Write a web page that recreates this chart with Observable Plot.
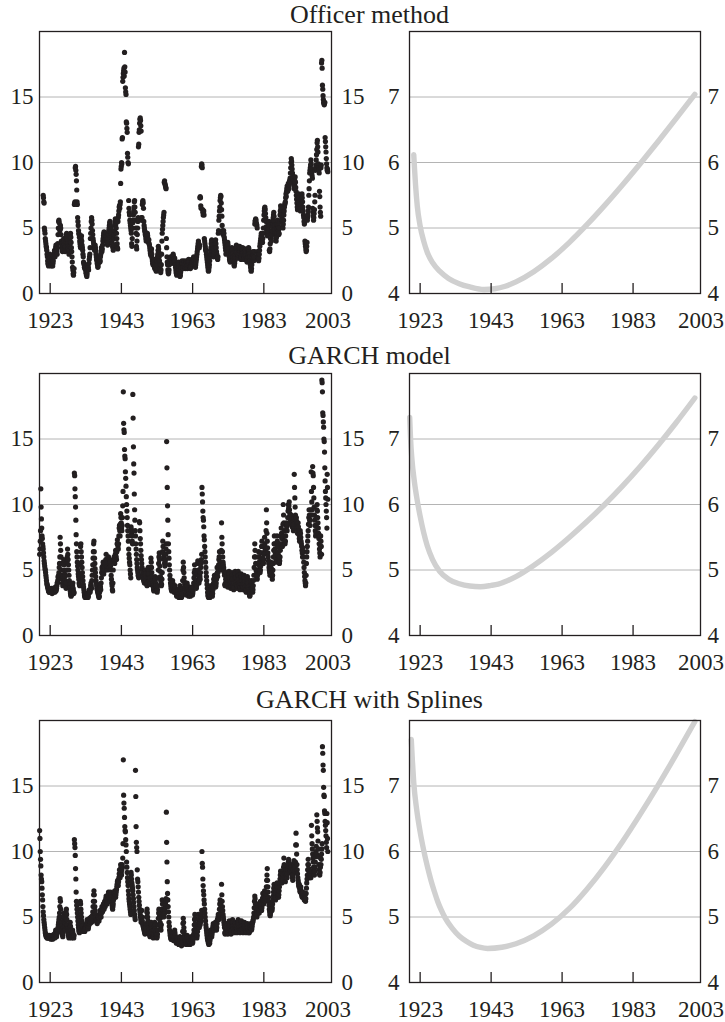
<!DOCTYPE html>
<html><head><meta charset="utf-8">
<script src="https://cdn.jsdelivr.net/npm/d3@7"></script>
<script src="https://cdn.jsdelivr.net/npm/@observablehq/plot@0.6"></script>
<style>
body{margin:0;background:#fff;}
#page{position:relative;width:725px;height:1022px;font-family:"Liberation Serif","Times New Roman",serif;color:#231f20;overflow:hidden;}
.title{position:absolute;left:39px;width:661px;text-align:center;font-size:26px;line-height:1;white-space:nowrap;}
.panel{position:absolute;}
</style></head><body><div id="page"></div>
<script>
// ---- Data ----
const titles = ["Officer method", "GARCH model", "GARCH with Splines"];
const xTicks = [1923, 1943, 1963, 1983];
const xEndTick = [2003];
const leftYTicks = [0, 5, 10, 15];
const leftGrid = [5, 10, 15];
const rightYTicks = [4, 5, 6, 7];
const rightGrid = [5, 6, 7];

// monthly volatility, Officer method, from Jan 1921
const officerStart = 1921;
const officer = [
7.5,7.3,7.0,6.9,5.0,4.8,4.6,4.2,4.0,3.8,3.6,3.5,
3.3,3.0,2.8,2.5,2.3,2.2,2.1,2.3,2.6,2.9,3.0,2.7,
2.5,2.3,2.2,2.1,2.3,2.6,2.4,2.2,2.1,2.3,2.5,2.8,
2.9,3.1,3.3,3.0,2.8,3.2,3.5,3.7,3.6,3.4,3.2,3.0,
3.5,3.8,4.5,5.0,5.5,5.6,5.4,5.0,4.8,4.9,5.2,5.0,
4.5,4.0,3.8,3.5,3.3,3.2,3.4,3.6,3.9,4.2,4.0,3.7,
3.5,3.3,3.2,3.6,4.0,4.3,4.5,4.6,4.4,4.2,4.0,3.8,
3.6,3.4,3.2,3.0,3.3,3.6,4.0,4.4,4.6,4.3,3.9,3.5,
3.2,2.8,2.4,2.0,1.8,1.5,1.4,1.6,1.9,6.8,6.9,7.0,
9.6,9.7,9.4,9.1,8.6,7.9,7.0,6.8,5.8,5.5,5.2,4.8,
4.6,4.5,4.3,4.0,3.8,3.6,3.5,3.8,4.2,4.4,4.0,3.7,
3.5,3.3,3.0,2.8,2.4,2.3,2.2,2.0,1.9,2.1,2.0,1.8,
1.6,1.5,1.4,1.3,1.5,1.8,2.0,2.2,2.0,1.8,2.3,2.6,
2.8,3.0,3.5,4.2,4.6,5.0,5.5,5.8,5.6,5.3,4.8,4.5,
4.2,4.0,3.8,3.6,3.4,3.3,3.5,3.7,3.5,3.3,3.0,2.8,
2.6,2.5,2.3,2.2,2.0,2.1,2.3,2.5,2.7,2.8,2.6,2.4,
2.5,2.8,3.0,3.2,3.5,3.4,3.2,3.4,3.7,4.0,4.2,4.4,
4.6,4.7,4.5,4.3,4.1,4.0,4.2,4.4,4.6,4.3,4.1,3.9,
3.8,3.7,3.9,4.2,4.5,4.8,5.0,5.2,5.4,5.5,5.3,5.1,
4.9,4.7,4.5,4.3,4.0,3.8,3.6,3.5,3.3,3.7,4.2,4.5,
4.8,5.2,5.5,5.7,5.6,5.3,5.0,4.6,4.2,3.8,3.5,3.4,
5.5,5.8,6.0,6.3,6.6,6.7,6.5,6.8,7.0,8.4,9.5,9.7,
10.0,9.9,11.8,11.9,16.2,16.5,16.8,17.0,17.2,16.6,18.4,17.3,
16.9,15.7,15.4,15.2,13.1,13.0,12.6,12.3,10.7,10.4,10.0,9.9,
7.1,6.5,6.2,6.0,5.6,5.4,5.2,5.0,4.8,4.6,3.8,3.6,
4.2,5.0,5.4,5.6,6.0,6.3,6.6,7.0,7.1,6.6,6.2,5.6,
5.0,4.6,3.6,3.4,4.0,4.5,5.0,5.5,5.8,11.2,11.4,12.3,
12.5,13.0,13.3,13.4,13.2,12.8,12.4,5.8,5.6,5.8,6.8,7.0,
7.1,6.9,6.5,5.5,5.2,5.0,4.8,4.7,4.5,4.4,4.2,4.0,
4.1,4.3,4.5,4.6,4.4,4.2,4.0,3.9,4.1,3.8,3.7,3.5,
3.3,3.1,3.0,2.9,3.2,3.4,3.0,2.7,2.5,2.3,2.2,2.4,
2.6,2.4,2.2,2.0,1.9,2.1,2.3,2.0,1.8,1.7,1.9,2.2,
2.5,2.8,3.0,3.3,3.6,3.4,3.1,2.8,2.5,2.2,1.9,1.7,
1.6,1.8,2.2,3.0,4.0,4.6,4.9,5.2,5.5,5.8,6.0,6.2,
8.5,8.6,8.4,8.3,8.2,8.1,8.0,4.2,3.5,2.8,2.4,2.2,
1.8,1.6,1.5,1.6,1.8,2.2,2.5,2.7,2.6,2.8,2.7,2.6,
2.5,2.4,2.3,2.5,2.7,2.9,3.0,2.8,2.6,2.4,2.6,2.7,
2.5,2.2,2.0,1.8,1.6,1.5,1.4,1.5,1.7,1.9,2.1,2.3,
2.4,2.2,2.0,1.8,1.5,1.3,1.4,1.6,1.8,2.0,2.2,2.4,
2.5,2.3,2.1,2.0,1.9,2.1,2.3,2.5,2.4,2.2,2.0,1.9,
2.0,2.2,2.4,2.5,2.3,2.1,1.9,2.0,2.2,2.4,2.6,2.5,
2.4,2.2,2.1,2.0,1.9,2.0,2.1,2.3,2.5,2.6,2.4,2.3,
2.2,2.4,2.6,2.8,2.7,2.5,2.3,2.2,2.1,2.0,2.2,2.4,
2.6,2.8,3.0,3.2,3.4,3.6,3.8,4.0,3.8,3.6,3.5,3.7,
7.3,7.4,7.3,6.7,6.5,9.7,9.9,9.8,9.6,6.4,6.2,6.0,
6.2,6.3,6.0,4.2,4.0,3.8,3.6,3.4,3.3,3.2,3.0,2.8,
2.6,2.4,2.2,2.0,1.8,1.7,1.8,2.0,2.2,2.5,2.8,3.0,
3.3,3.5,3.8,4.0,4.1,3.9,3.7,3.4,3.2,3.0,2.8,3.0,
3.2,3.4,3.6,3.8,4.0,4.1,3.8,3.5,3.2,3.0,2.8,2.7,
2.6,2.8,4.6,4.8,5.6,5.9,6.3,6.6,7.1,7.3,7.5,7.4,
6.9,6.4,5.9,5.2,4.8,4.6,4.5,4.7,4.8,4.6,4.3,4.1,
3.9,3.7,3.5,3.3,3.0,3.1,3.3,3.5,3.6,3.8,3.9,3.7,
3.4,3.2,3.0,2.8,2.6,2.5,2.4,2.6,2.8,3.0,3.2,3.4,
3.5,3.3,3.1,3.0,2.8,2.6,2.4,2.2,2.1,2.3,2.5,2.8,
3.0,3.2,3.5,3.7,3.6,3.4,3.2,3.0,2.8,2.7,2.9,3.1,
3.3,3.5,3.6,3.4,3.2,3.0,2.8,2.6,2.8,3.0,3.2,3.4,
3.5,3.3,3.1,2.9,2.7,2.6,2.8,3.0,3.2,3.4,3.3,3.1,
2.9,2.7,2.5,2.4,2.6,2.8,3.0,3.3,3.5,3.4,3.2,3.0,
2.8,2.5,2.2,2.0,1.8,1.7,1.9,2.2,2.5,2.8,3.0,3.2,
2.9,2.7,2.5,2.8,3.2,5.3,5.5,5.6,5.7,5.6,5.4,5.3,
5.2,5.0,3.2,3.0,2.8,2.6,2.5,2.7,3.0,3.3,3.6,3.8,
4.0,4.2,4.4,4.6,4.5,4.3,4.1,3.9,4.2,4.6,5.0,5.6,
6.0,6.3,6.5,6.6,6.4,6.1,5.8,5.5,5.1,4.8,4.6,4.4,
4.5,4.8,5.0,5.3,5.5,5.2,3.3,3.2,3.4,3.8,4.2,4.6,
4.2,4.0,4.5,4.8,5.1,5.4,5.6,5.8,6.0,6.2,5.9,5.5,
5.2,4.9,4.6,4.4,4.2,4.0,4.3,4.6,5.0,5.3,5.6,5.2,
5.0,4.8,4.5,4.6,5.0,5.5,6.0,6.3,6.7,6.5,6.2,6.0,
5.8,5.6,5.4,5.2,5.0,5.3,5.6,6.0,6.3,6.6,6.8,6.9,
7.0,7.3,7.6,7.4,7.8,8.0,8.2,8.0,7.8,8.1,8.4,8.2,
8.0,8.3,8.6,8.5,8.8,9.2,9.6,10.0,10.3,10.1,9.8,9.5,
9.2,9.0,8.8,8.6,8.4,8.2,8.0,8.3,8.6,8.9,8.5,8.1,
7.8,7.5,7.2,6.9,6.6,6.4,6.6,7.0,7.4,7.6,7.3,7.0,
6.8,6.6,6.4,6.3,6.5,6.8,7.2,7.5,7.6,7.3,7.0,6.6,
6.3,6.0,5.8,5.5,5.3,5.4,4.0,3.8,3.6,3.4,3.2,3.3,
3.6,3.9,5.6,5.8,6.0,6.3,6.6,7.5,8.0,8.6,9.2,9.4,
9.6,9.8,10.2,9.9,9.5,9.2,9.0,8.8,6.5,6.2,5.9,5.6,
5.8,6.1,6.4,7.0,7.5,9.4,9.6,9.8,10.2,10.6,11.0,11.5,
11.7,11.2,10.8,9.9,9.6,9.4,9.2,7.8,7.4,6.6,6.2,5.9,
9.6,9.8,17.6,17.8,17.2,15.9,15.6,15.1,14.8,14.6,14.5,14.4,
14.5,14.6,11.9,11.6,11.2,10.8,10.3,9.9,9.6,9.4,9.5,9.3
];

// monthly volatility, GARCH model, from Jan 1920
const garchStart = 1920;
const garch = [
6.2,6.6,7.2,8.0,11.2,9.8,8.9,8.2,7.6,7.4,7.0,6.8,
6.6,6.3,6.0,5.7,5.5,5.3,5.1,5.0,4.8,4.6,4.4,4.2,
4.0,3.9,3.8,3.7,3.6,3.5,3.4,3.4,3.3,3.3,3.4,3.5,
3.4,3.3,3.5,3.6,3.4,3.3,3.2,3.4,3.6,3.5,3.3,3.4,
3.5,3.6,3.4,3.3,3.5,3.7,3.6,3.4,3.5,3.6,3.8,4.0,
4.0,4.2,4.5,4.4,4.6,4.8,5.2,5.5,6.0,7.5,7.0,6.5,
6.0,5.5,5.0,4.6,4.3,4.0,3.8,4.5,5.5,5.8,5.4,5.0,
4.7,4.5,4.2,4.0,3.8,3.6,4.0,5.0,5.6,6.0,6.6,6.2,
5.8,5.4,5.0,4.6,4.2,3.9,3.6,3.4,3.2,3.1,3.0,3.1,
3.2,3.3,3.5,3.8,4.0,3.6,3.4,3.2,3.3,12.4,12.2,11.2,
10.6,9.8,8.8,7.7,7.0,6.4,6.0,5.6,5.3,5.0,4.7,4.5,
4.3,4.0,3.9,3.8,4.5,5.5,6.8,7.0,6.4,6.0,5.6,5.2,
4.8,4.5,4.2,3.9,3.7,3.5,3.3,3.1,3.0,2.9,3.0,3.2,
3.1,3.0,2.9,3.0,3.2,3.1,3.0,2.9,3.0,3.2,3.4,3.3,
3.5,3.4,3.3,3.5,3.8,4.0,3.8,3.6,4.2,4.6,5.0,5.4,
5.9,6.4,7.0,7.2,6.4,5.9,5.5,5.1,4.8,4.5,4.2,4.0,
3.8,3.6,3.5,3.4,3.3,3.2,3.1,3.0,2.9,3.0,3.3,3.6,
3.9,3.7,3.5,4.0,4.4,4.8,5.2,5.0,4.7,5.3,5.6,5.4,
4.7,5.0,5.3,5.5,5.2,5.0,5.4,5.8,6.2,5.8,5.5,5.2,
5.0,5.3,5.6,5.9,6.0,5.7,5.4,5.2,5.5,5.8,5.6,5.3,
5.0,4.6,4.3,4.0,3.8,3.5,3.4,4.0,5.0,5.6,5.8,6.0,
5.7,5.5,5.8,6.2,6.5,6.3,6.0,5.8,6.4,7.0,7.3,7.0,
6.8,6.6,7.0,7.6,8.2,8.4,8.0,7.6,8.5,9.3,9.0,8.6,
8.2,8.0,8.4,9.0,9.9,11.0,18.6,16.2,15.7,15.5,14.2,13.7,
13.5,12.5,12.0,11.4,10.6,10.0,9.5,9.0,8.4,8.0,7.6,7.2,
6.6,6.2,5.9,5.6,5.4,5.0,4.7,4.4,8.3,8.1,7.8,7.6,
7.2,7.0,18.4,16.6,14.4,13.1,12.4,10.8,9.6,8.8,8.0,7.6,
7.0,6.6,6.2,5.8,5.5,5.2,5.0,4.8,4.6,4.5,4.4,4.6,
8.7,8.6,8.0,7.4,7.0,6.5,6.1,5.8,5.5,5.2,5.0,4.8,
4.6,4.5,4.3,4.2,4.1,4.0,4.4,4.8,5.0,4.7,4.4,4.2,
4.0,3.9,3.8,4.0,4.4,4.8,5.2,5.0,4.7,4.4,4.2,4.0,
3.9,4.4,5.2,5.9,5.6,5.2,4.8,4.5,4.2,4.0,3.8,3.7,
3.5,3.4,3.6,3.9,4.2,4.5,4.3,4.0,3.8,3.6,3.5,3.4,
3.3,3.5,3.8,4.4,5.0,5.5,6.0,6.3,5.8,5.3,4.9,4.5,
4.2,4.0,3.8,3.9,4.3,4.8,6.4,7.2,6.8,6.3,6.0,5.9,
5.8,5.5,5.3,5.6,5.8,6.2,6.6,7.0,14.8,12.8,11.3,9.9,
8.8,7.7,7.0,6.4,5.9,5.4,5.0,4.6,4.3,4.0,3.8,3.6,
3.5,3.4,3.6,3.9,4.2,4.0,3.8,3.6,3.4,3.3,3.4,3.6,
3.8,3.6,3.4,3.3,3.2,3.1,3.0,3.1,3.3,3.5,3.4,3.2,
3.0,2.9,3.0,3.2,3.5,3.8,3.6,3.4,3.2,3.0,2.9,3.0,
3.2,3.6,4.2,5.0,5.6,5.2,4.8,4.4,4.1,3.9,3.7,3.5,
3.3,3.2,3.1,3.3,3.6,4.0,3.8,3.5,3.3,3.1,3.0,3.2,
3.4,3.3,3.2,3.1,3.0,3.2,3.5,3.7,3.6,3.4,3.2,3.1,
3.2,3.4,3.7,4.0,4.4,4.8,5.4,5.0,4.6,4.2,3.9,3.7,
3.6,3.8,4.2,4.7,5.5,5.7,5.0,4.6,4.3,4.0,4.2,4.6,
4.5,4.3,4.8,5.2,5.5,5.8,6.2,11.3,10.8,10.2,9.5,9.0,
8.8,8.3,7.6,7.3,6.8,6.4,6.0,5.6,5.2,4.8,4.5,4.2,
3.9,3.6,3.3,3.1,3.0,2.9,3.0,3.1,3.2,3.0,2.9,3.1,
3.3,3.5,3.8,3.6,3.4,3.2,3.0,3.2,3.5,3.7,4.0,4.3,
4.3,4.6,4.4,4.1,3.9,3.7,3.8,4.0,4.3,4.7,5.2,4.8,
4.5,4.8,5.0,5.4,5.8,6.0,6.4,6.0,5.6,5.4,5.2,5.0,
6.5,8.6,7.5,7.0,6.4,6.0,5.6,5.4,5.2,5.0,4.8,4.6,
3.9,3.8,4.0,4.3,4.6,4.8,4.5,4.2,4.0,3.8,3.7,3.9,
4.2,4.5,4.9,4.7,4.4,4.1,3.9,3.7,3.6,3.8,4.1,4.4,
4.8,4.6,4.3,4.0,3.8,3.6,3.5,3.7,4.0,4.3,4.6,4.9,
4.7,4.4,4.1,3.9,3.7,3.6,3.8,4.2,4.6,4.9,4.6,4.3,
4.0,3.8,3.6,3.5,3.7,4.0,4.4,4.7,4.5,4.2,3.9,3.7,
3.6,3.5,3.7,4.0,4.3,4.6,4.4,4.1,3.9,3.7,3.5,3.4,
3.3,3.5,3.8,4.1,4.5,4.3,4.0,3.7,3.5,3.3,3.2,3.1,
3.0,3.1,3.3,3.5,3.8,4.2,4.0,3.8,3.6,3.4,3.3,3.5,
3.8,4.2,4.6,5.2,6.0,7.0,6.5,6.0,5.5,5.0,4.7,4.5,
4.4,4.3,4.6,5.0,5.5,6.0,6.4,6.0,5.6,5.3,5.0,4.8,
5.0,5.3,5.8,6.3,6.8,7.2,6.8,6.3,5.9,5.6,5.5,5.8,
6.2,6.8,7.5,7.0,6.6,6.3,6.6,8.0,9.6,8.6,7.8,7.2,
6.7,6.3,6.0,5.7,5.5,5.2,5.0,4.8,4.6,4.9,5.3,5.6,
5.4,5.1,4.8,4.5,4.3,4.6,5.0,5.5,6.0,6.5,7.0,7.6,
7.0,6.6,6.3,6.0,5.8,5.6,6.2,7.0,7.6,7.2,6.8,6.4,
6.2,6.0,5.8,5.6,5.5,5.7,6.0,6.5,7.0,7.6,8.2,7.8,
7.4,7.0,6.8,7.5,8.5,10.0,9.2,8.6,8.0,7.6,7.2,7.0,
7.2,7.6,8.0,8.4,8.6,8.3,8.0,8.5,9.0,9.5,10.0,9.7,
9.9,10.2,9.6,9.3,9.0,8.7,8.5,8.8,9.2,8.9,8.6,8.3,
8.6,8.4,8.2,8.0,8.5,9.0,12.3,11.3,10.5,9.8,9.2,8.9,
8.8,9.0,8.7,8.4,8.1,7.8,8.2,8.6,8.3,8.0,7.7,7.4,
7.2,7.6,8.0,7.8,7.5,7.2,7.0,6.8,6.5,6.3,6.0,6.7,
6.4,6.0,5.6,5.2,4.8,4.5,4.2,4.0,3.8,4.0,4.6,5.5,
6.0,6.4,6.8,7.2,7.6,8.0,8.5,9.0,9.6,9.2,8.8,8.4,
8.8,9.2,9.6,12.5,11.0,10.2,9.6,9.2,12.9,12.4,12.2,11.3,
10.5,9.8,9.2,8.8,8.4,8.0,7.6,7.8,8.4,9.0,9.6,10.0,
9.5,9.0,8.6,8.2,7.8,7.4,7.0,6.6,6.3,6.0,6.8,7.6,
7.2,6.8,6.2,19.5,19.3,18.6,17.0,16.8,16.3,15.9,15.0,14.8,
14.0,12.8,11.8,11.0,10.5,10.0,9.5,9.0,8.2,12.3,11.3,10.4
];

// monthly volatility, GARCH with splines, from Jan 1920
const splinesStart = 1920;
const splines = [
11.6,11.0,10.0,9.4,8.9,8.2,7.9,7.7,7.2,6.7,6.3,5.8,
5.4,5.1,4.8,4.6,4.4,4.2,4.0,3.8,3.7,3.6,3.5,3.5,
3.5,3.4,3.4,3.5,3.6,3.5,3.4,3.4,3.5,3.6,3.5,3.4,
3.5,3.4,3.3,3.4,3.5,3.6,3.5,3.4,3.3,3.4,3.5,3.6,
3.6,3.7,3.5,3.4,3.6,3.8,4.0,3.8,3.6,3.5,3.7,3.9,
3.8,4.0,4.2,4.4,4.6,4.8,5.0,5.3,5.8,6.4,6.2,5.6,
5.0,4.6,4.3,4.0,3.8,3.6,3.5,3.8,4.2,4.8,5.3,5.0,
4.6,4.3,4.0,4.5,5.0,5.4,5.6,5.2,4.8,4.4,4.1,3.9,
3.7,3.6,3.5,3.4,3.6,3.8,4.2,4.6,4.3,4.0,3.7,3.5,
3.4,3.6,3.8,4.0,3.8,3.6,3.5,3.4,3.6,10.9,10.6,10.3,
9.7,8.7,7.9,6.9,6.2,5.9,5.6,5.3,5.0,4.7,4.4,4.2,
4.0,3.9,3.8,4.2,5.0,6.2,6.0,5.6,5.3,5.0,4.7,4.5,
4.3,4.1,4.0,3.9,3.9,4.0,4.1,4.0,3.9,4.0,4.2,4.4,
4.1,4.2,4.4,4.6,4.8,4.6,4.4,4.2,4.1,4.3,4.5,4.7,
4.9,4.7,4.5,4.6,4.8,5.0,4.8,4.6,4.7,4.9,5.1,5.4,
5.8,6.2,6.7,7.0,6.7,6.2,5.8,5.5,5.2,5.0,4.8,4.7,
4.7,4.6,4.5,4.7,4.9,5.1,5.0,4.8,4.7,4.9,5.1,5.3,
5.5,5.4,5.2,5.0,5.3,5.6,5.8,5.6,5.4,5.6,5.8,6.0,
5.8,5.6,5.9,6.2,6.0,5.8,6.1,6.4,6.6,6.4,6.2,6.0,
6.1,6.3,6.5,6.7,6.9,6.8,6.6,6.4,6.2,6.5,6.8,6.9,
6.7,6.5,6.3,6.1,5.9,5.7,5.6,5.8,6.0,6.3,6.6,6.8,
6.9,7.0,6.8,6.6,6.5,6.7,6.9,7.1,7.3,7.5,7.7,7.8,
7.6,7.4,7.7,8.0,8.3,8.6,8.2,8.0,8.4,9.0,8.8,8.4,
8.2,8.6,9.0,8.8,9.5,10.6,17.0,14.3,13.7,13.3,12.6,11.9,
11.6,11.5,10.9,10.5,10.0,9.2,8.8,8.4,8.0,7.7,7.4,7.0,
6.7,6.4,6.2,6.0,5.8,5.6,5.4,5.2,8.4,8.2,7.9,7.6,
7.4,7.2,7.0,6.7,6.4,6.1,5.8,5.5,5.2,5.0,4.8,16.2,
14.2,11.9,10.7,10.3,10.0,8.6,7.9,7.7,7.3,6.9,6.5,6.2,
5.9,5.6,5.4,5.2,5.0,4.8,4.6,5.0,5.5,5.0,4.7,4.5,
4.4,4.3,4.2,4.1,4.0,3.9,3.8,3.7,3.8,4.0,4.2,4.5,
5.0,5.4,5.6,5.3,5.0,4.7,4.4,4.2,4.0,3.8,3.7,3.6,
3.5,3.6,3.8,4.2,4.6,4.4,4.1,3.9,3.7,3.6,3.5,3.4,
3.5,3.7,4.0,4.3,4.6,4.4,4.1,3.9,3.7,3.6,3.5,3.4,
3.5,3.7,4.0,4.4,4.9,5.3,5.6,5.5,5.2,4.9,4.6,4.4,
4.2,4.0,4.4,5.0,5.6,6.3,6.0,5.6,5.3,5.1,5.0,5.2,
5.5,5.3,5.6,5.8,6.0,6.2,6.4,13.0,10.7,9.2,7.7,6.8,
6.3,5.8,5.4,5.0,4.6,4.3,4.0,3.8,3.6,3.5,3.4,3.3,
3.3,3.4,3.6,3.8,3.7,3.5,3.3,3.2,3.3,3.5,3.8,4.0,
3.8,3.6,3.4,3.2,3.1,3.0,3.1,3.3,3.4,3.3,3.2,3.1,
3.0,2.9,2.9,3.0,3.2,3.5,3.4,3.2,3.0,2.9,2.8,2.9,
3.1,3.4,3.9,4.5,4.9,4.6,4.2,3.9,3.6,3.4,3.2,3.1,
3.0,2.9,3.0,3.2,3.4,3.6,3.5,3.3,3.1,3.0,2.9,3.0,
3.2,3.1,3.0,2.9,3.0,3.1,3.3,3.5,3.4,3.2,3.1,3.0,
3.1,3.3,3.5,3.7,4.0,4.4,4.8,5.2,4.9,4.5,4.2,3.9,
3.7,3.5,3.4,3.6,3.9,4.3,4.8,5.2,4.8,4.4,4.2,4.6,
4.6,4.4,4.6,4.8,5.0,5.2,5.5,10.0,9.1,8.8,7.9,7.4,
7.0,6.7,6.3,6.0,5.6,5.3,5.0,4.7,4.4,4.2,4.0,3.8,
3.6,3.4,3.3,3.2,3.1,3.0,2.9,3.0,3.1,3.0,3.2,3.4,
4.0,3.9,3.7,3.6,3.5,3.7,3.9,4.1,4.3,4.5,4.4,4.2,
4.1,4.0,4.2,4.4,4.6,4.5,4.3,4.1,4.0,4.2,4.5,4.8,
4.8,5.0,5.2,5.0,4.8,5.2,5.6,6.0,6.3,6.0,5.7,5.5,
6.2,7.5,6.7,6.2,5.8,5.5,5.2,5.0,4.8,4.6,4.4,4.2,
3.8,3.7,3.8,4.0,4.3,4.5,4.3,4.1,3.9,3.8,3.7,3.8,
4.0,4.2,4.5,4.7,4.5,4.3,4.1,3.9,3.8,3.7,3.8,4.0,
4.3,4.6,4.8,4.6,4.3,4.1,3.9,3.8,3.9,4.1,4.4,4.6,
4.5,4.3,4.1,3.9,3.8,3.9,4.1,4.3,4.6,4.8,4.6,4.4,
4.2,4.0,3.9,3.8,3.9,4.1,4.3,4.6,4.7,4.5,4.3,4.1,
4.0,3.9,3.8,3.9,4.1,4.4,4.6,4.5,4.3,4.1,4.0,3.9,
3.8,3.9,4.1,4.3,4.5,4.4,4.2,4.0,3.9,3.8,3.8,3.9,
4.0,4.2,4.4,4.5,4.3,4.1,4.0,4.1,4.3,4.5,4.6,4.7,
4.8,5.0,5.3,5.7,6.2,6.6,6.4,6.0,5.7,5.4,5.2,5.1,
5.0,5.2,5.5,5.8,6.0,5.8,5.6,5.4,5.3,5.5,5.8,6.0,
6.2,6.0,5.8,5.6,5.5,5.7,6.0,6.4,6.8,6.5,6.2,6.0,
6.3,6.6,7.0,6.8,6.5,6.2,6.4,6.8,7.3,7.8,8.2,8.7,
7.8,7.3,6.9,6.5,6.2,5.9,5.6,5.4,5.2,5.1,5.3,5.6,
6.0,5.8,5.6,5.5,5.7,6.0,6.3,6.6,6.9,7.2,7.5,7.3,
7.0,6.7,6.5,6.3,6.5,6.8,7.1,7.4,7.6,7.3,7.0,6.8,
6.6,6.5,6.7,7.0,7.3,7.6,7.9,8.2,8.5,8.3,8.0,7.8,
7.6,7.9,8.3,8.0,7.8,8.2,8.8,9.5,9.0,8.6,8.3,8.0,
7.7,8.0,8.4,8.6,8.4,8.2,8.0,8.3,8.6,8.9,9.2,9.4,
9.2,9.0,8.8,8.6,8.4,8.6,8.8,9.0,8.8,8.6,8.4,8.2,
8.0,7.8,8.2,8.6,9.0,9.3,9.0,8.7,8.5,8.8,9.2,10.5,
11.4,10.5,9.8,9.0,8.6,8.3,8.0,7.8,7.6,7.4,7.3,7.5,
7.2,7.0,6.9,7.1,7.3,7.0,6.8,6.7,6.6,6.5,6.7,6.9,
6.8,6.6,6.5,6.4,6.3,6.5,6.7,6.4,6.2,6.4,6.8,7.2,
7.6,7.9,8.2,8.6,9.0,9.4,9.0,8.7,8.4,8.2,8.0,8.2,
8.4,8.2,8.0,8.5,12.0,11.2,10.6,10.2,9.8,9.5,9.2,8.8,
8.6,8.4,8.2,8.5,8.8,9.2,9.6,10.0,10.4,9.8,12.8,12.3,
11.8,11.5,10.8,10.2,9.6,9.0,8.6,8.3,8.2,8.4,8.8,9.5,
9.0,9.4,9.8,10.2,10.6,18.0,17.5,16.6,16.2,14.9,14.3,14.2,
13.1,12.9,12.3,12.0,11.6,11.2,10.7,10.3,12.9,12.2,11.0,10.0
];

// long-run (trend) component
const officerTrendYears = [1921.2,1921.4,1921.7,1922.2,1923,1924,1925,1926.5,1928.5,1931,1934,1937,1941,1944,1947,1950,1955,1960,1965,1970,1975,1980,1985,1990,1995,2000.4];
const officerTrend      = [6.12,5.92,5.66,5.33,5.03,4.8,4.63,4.47,4.34,4.23,4.15,4.1,4.06,4.072,4.111,4.177,4.332,4.535,4.777,5.05,5.345,5.657,5.982,6.317,6.662,7.04];
const garchTrendYears = [1920.05,1920.3,1920.7,1921.3,1922,1923,1924,1925,1926.5,1928.5,1931,1934,1937,1940,1943,1945,1950,1955,1960,1965,1970,1975,1980,1985,1990,1995,2000.4];
const garchTrend      = [7.33,7.0,6.68,6.38,6.12,5.82,5.57,5.37,5.16,4.98,4.86,4.79,4.755,4.745,4.765,4.785,4.9,5.07,5.27,5.497,5.74,6.0,6.28,6.58,6.9,7.24,7.626];
const splinesTrendYears = [1920.5,1920.8,1921.2,1922,1923,1924,1925,1926,1927,1928,1929,1930,1932,1934,1936,1938,1940,1942,1946,1950,1955,1960,1965,1970,1975,1980,1985,1990,1995,2000.4];
const splinesTrend      = [7.71,7.4,7.05,6.65,6.3,6.02,5.78,5.57,5.39,5.23,5.1,4.99,4.83,4.71,4.63,4.57,4.535,4.52,4.538,4.592,4.712,4.89,5.127,5.425,5.767,6.15,6.567,7.007,7.467,7.983];

// ---- Drawing ----
const INK = "#231f20";
const FONT = '"Liberation Serif","Times New Roman",serif';
const page = document.getElementById("page");
const frameTops = [31, 372.5, 719.5];
const titleTops = [2.2, 343.4, 686.6];
const MT = 8, FH = 262, MB = 44;
const fmt = d => String(d);

function monthly(arr, start) { return arr.map((v, i) => ({t: start + (i + 0.5) / 12, v})); }
function pairs(xs, ys) { return xs.map((t, i) => ({t, v: ys[i]})); }

const rows = [
  {dots: monthly(officer, officerStart), trend: pairs(officerTrendYears, officerTrend)},
  {dots: monthly(garch, garchStart), trend: pairs(garchTrendYears, garchTrend)},
  {dots: monthly(splines, splinesStart), trend: pairs(splinesTrendYears, splinesTrend)}
];

function common(marginLeft, marginRight, plotW, yDomain) {
  return {
    width: marginLeft + plotW + marginRight,
    height: MT + FH + MB,
    marginLeft, marginRight, marginTop: MT, marginBottom: MB,
    x: {domain: [1920, 2002], label: null},
    y: {domain: yDomain, label: null},
    style: {fontFamily: FONT, fontSize: "23px", color: INK, background: "transparent", overflow: "visible"}
  };
}

function xAxisMarks(endDx) {
  return [
    Plot.tickX(xTicks, {x: d => d, insetTop: FH - 10, stroke: INK, strokeWidth: 1.3}),
    Plot.axisX({ticks: xTicks, tickSize: 0, tickPadding: 18, fontSize: 23, tickFormat: fmt, label: null}),
    Plot.axisX({ticks: xEndTick, tickSize: 0, tickPadding: 18, fontSize: 23, dx: endDx, tickFormat: fmt, label: null})
  ];
}

rows.forEach((row, k) => {
  const title = document.createElement("div");
  title.className = "title";
  title.style.top = titleTops[k] + "px";
  title.textContent = titles[k];
  page.appendChild(title);

  const left = Plot.plot({
    ...common(39, 31, 292, [0, 20]),
    marks: [
      Plot.gridY(leftGrid, {stroke: "#b4b4b4", strokeOpacity: 1, strokeWidth: 1}),
      Plot.dot(row.dots, {x: "t", y: "v", r: 2.6, fill: INK, stroke: "none"}),
      Plot.frame({stroke: INK, strokeWidth: 1.3}),
      ...xAxisMarks(-7),
      Plot.axisY({anchor: "left", ticks: leftYTicks, tickSize: 0, tickPadding: 6, fontSize: 23, tickFormat: fmt, label: null}),
      Plot.axisY({anchor: "right", ticks: leftYTicks, tickSize: 0, tickPadding: 10, fontSize: 23, tickFormat: fmt, label: null})
    ]
  });
  left.classList.add("panel");
  left.style.left = "0px";
  left.style.top = (frameTops[k] - MT) + "px";
  page.appendChild(left);

  const right = Plot.plot({
    ...common(47, 25, 291, [4, 8]),
    marks: [
      Plot.gridY(rightGrid, {stroke: "#b4b4b4", strokeOpacity: 1, strokeWidth: 1}),
      Plot.line(row.trend, {x: "t", y: "v", curve: "monotone-x", stroke: "#d0d0d0", strokeWidth: 5.4, strokeLinecap: "round"}),
      Plot.frame({stroke: INK, strokeWidth: 1.3}),
      ...xAxisMarks(-3),
      Plot.axisY({anchor: "left", ticks: rightYTicks, tickSize: 0, tickPadding: 10, fontSize: 23, tickFormat: fmt, label: null}),
      Plot.axisY({anchor: "right", ticks: rightYTicks, tickSize: 0, tickPadding: 7, fontSize: 23, tickFormat: fmt, label: null})
    ]
  });
  right.classList.add("panel");
  right.style.left = "362px";
  right.style.top = (frameTops[k] - MT) + "px";
  page.appendChild(right);
});
</script>
</body></html>
